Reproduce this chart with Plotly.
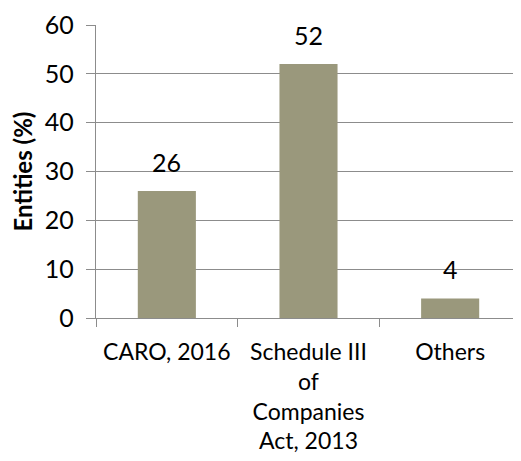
import plotly.graph_objects as go

categories = ["CARO, 2016", "Schedule III<br>of<br>Companies<br>Act, 2013", "Others"]
values = [26, 52, 4]
y_ticks = [0, 10, 20, 30, 40, 50, 60]

bar_color = "#9A987C"
grid_color = "#8C8C8C"
font_family = "Lato, Carlito, Calibri, sans-serif"

fig = go.Figure(
    go.Bar(x=categories, y=values, marker=dict(color=bar_color, line=dict(width=0)), width=0.41)
)

for c, v in zip(categories, values):
    fig.add_annotation(x=c, y=v, text=str(v), showarrow=False, yanchor="bottom",
                       yshift=12, font=dict(size=25, color="black", family=font_family))

fig.update_layout(
    width=521, height=461,
    margin=dict(l=88, r=8, t=17, b=151, autoexpand=False),
    plot_bgcolor="white", paper_bgcolor="white",
    showlegend=False,
    font=dict(family=font_family, color="black"),
    bargap=0.59,
)
fig.update_xaxes(
    type="category", tickson="boundaries", ticks="outside", ticklen=8,
    tickcolor=grid_color, tickwidth=1.3, tickangle=0, automargin=False,
    ticklabelstandoff=13,
    showline=True, linecolor=grid_color, linewidth=1.3,
    showgrid=False, tickfont=dict(size=23, color="black"),
)
fig.update_yaxes(
    range=[0, 60], tickvals=y_ticks, ticks="outside", ticklen=9,
    tickcolor=grid_color, tickwidth=1.3, automargin=False,
    ticklabelstandoff=7,
    showline=True, linecolor=grid_color, linewidth=1.3,
    showgrid=True, gridcolor=grid_color, gridwidth=1.3, zeroline=False,
    tickfont=dict(size=25, color="black"),
    title=dict(text="<b>Entities (%)</b>", font=dict(size=24, color="black"), standoff=16),
)

fig.write_html("out.html")
